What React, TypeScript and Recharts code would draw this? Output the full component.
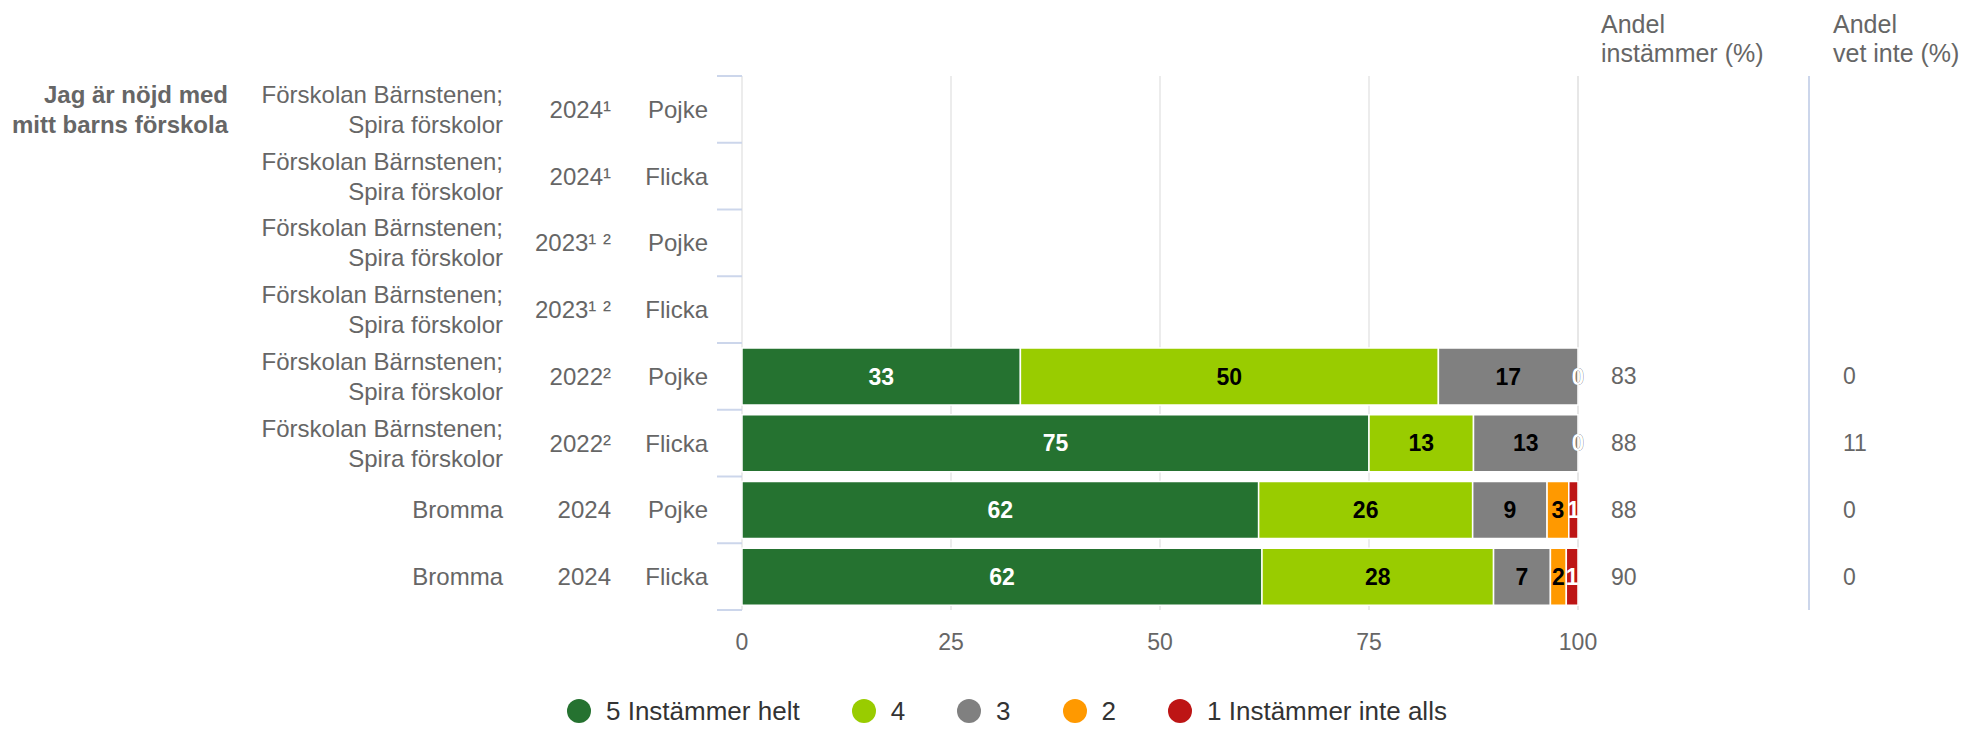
import React from "react";
import { BarChart, Bar, XAxis, YAxis, CartesianGrid, LabelList, Legend } from "recharts";

const FONT = '"Liberation Sans", Arial, sans-serif';

// kategorier (en rad per stapel)
const fraga = ["Jag är nöjd med", "mitt barns förskola"];
const skolor = [
  ["Förskolan Bärnstenen;", "Spira förskolor"],
  ["Förskolan Bärnstenen;", "Spira förskolor"],
  ["Förskolan Bärnstenen;", "Spira förskolor"],
  ["Förskolan Bärnstenen;", "Spira förskolor"],
  ["Förskolan Bärnstenen;", "Spira förskolor"],
  ["Förskolan Bärnstenen;", "Spira förskolor"],
  ["Bromma"],
  ["Bromma"],
];
const ar = ["2024¹", "2024¹", "2023¹ ²", "2023¹ ²", "2022²", "2022²", "2024", "2024"];
const kon = ["Pojke", "Flicka", "Pojke", "Flicka", "Pojke", "Flicka", "Pojke", "Flicka"];

// andelar per svarsalternativ (%)
const instammerHelt = [null, null, null, null, 33.3, 75, 61.8, 62.2];
const fyra = [null, null, null, null, 50, 12.5, 25.6, 27.7];
const tre = [null, null, null, null, 16.7, 12.5, 8.9, 6.8];
const tva = [null, null, null, null, 0, 0, 2.6, 1.9];
const instammerInte = [null, null, null, null, 0, 0, 1.1, 1.4];

// kolumner till höger
const andelInstammer = [null, null, null, null, 83, 88, 88, 90];
const andelVetInte = [null, null, null, null, 0, 11, 0, 0];

const xTicks = [0, 25, 50, 75, 100];

const serier = [
  { key: "s5", name: "5 Instämmer helt", color: "#257230", text: "#fff", values: instammerHelt },
  { key: "s4", name: "4", color: "#99cc00", text: "#000", values: fyra },
  { key: "s3", name: "3", color: "#808080", text: "#000", values: tre },
  { key: "s2", name: "2", color: "#ff9900", text: "#000", values: tva },
  { key: "s1", name: "1 Instämmer inte alls", color: "#bd1515", text: "#fff", values: instammerInte },
];

const data = kon.map((_, i) => {
  const rad: Record<string, any> = { cat: "r" + i };
  serier.forEach((s) => {
    rad[s.key] = s.values[i];
  });
  return rad;
});

const W = 1973;
const H = 729;
const PLOT_TOP = 76;
const PLOT_BOTTOM = 610;
const PLOT_LEFT = 742;
const PLOT_RIGHT = 1578;
const BAND = (PLOT_BOTTOM - PLOT_TOP) / kon.length;
const COL_INSTAMMER = 1611;
const COL_VETINTE = 1843;

function KategoriTick(props: any) {
  const { x, y, payload } = props;
  const i = Number(String(payload.value).slice(1));
  const grey = "#666";
  const skola = skolor[i];
  return (
    <g fontFamily={FONT}>
      <line x1={x - 25} x2={x} y1={y - BAND / 2} y2={y - BAND / 2} stroke="#ccd6eb" strokeWidth={2} />
      {i === kon.length - 1 && (
        <line x1={x - 25} x2={x} y1={y + BAND / 2} y2={y + BAND / 2} stroke="#ccd6eb" strokeWidth={2} />
      )}
      {i === 0 &&
        fraga.map((t, k) => (
          <text key={k} x={228} y={y - 15 + k * 30} dy="0.35em" textAnchor="end" fontSize={24} fontWeight="bold" fill={grey}>
            {t}
          </text>
        ))}
      {skola.map((t, k) => (
        <text
          key={k}
          x={x - 239}
          y={y + (k - (skola.length - 1) / 2) * 30}
          dy="0.35em"
          textAnchor="end"
          fontSize={24}
          fill={grey}
        >
          {t}
        </text>
      ))}
      <text x={x - 131} y={y} dy="0.35em" textAnchor="end" fontSize={24} fill={grey}>
        {ar[i]}
      </text>
      <text x={x - 34} y={y} dy="0.35em" textAnchor="end" fontSize={24} fill={grey}>
        {kon[i]}
      </text>
      {andelInstammer[i] != null && (
        <text x={COL_INSTAMMER} y={y} dy="0.35em" fontSize={23} fill={grey}>
          {andelInstammer[i]}
        </text>
      )}
      {andelVetInte[i] != null && (
        <text x={COL_VETINTE} y={y} dy="0.35em" fontSize={23} fill={grey}>
          {andelVetInte[i]}
        </text>
      )}
    </g>
  );
}

// etikett mitt i segmentet; nollvärden i följande serier ritas i stapelns slut
function SegmentEtikett(props: any) {
  const { x, y, width, height, value, serieIndex } = props;
  if (value == null || x == null || isNaN(x)) return null;
  const index = Number(String(value).slice(1));
  const s = serier[serieIndex];
  const v = s.values[index];
  if (v == null) return null;
  const nollor: { color: string }[] = [];
  for (let j = serieIndex + 1; j < serier.length; j++) {
    if (serier[j].values[index] === 0) nollor.push({ color: serier[j].text });
    else break;
  }
  const textProps = {
    textAnchor: "middle" as const,
    dy: "0.35em",
    fontFamily: FONT,
    fontSize: 23,
    fontWeight: "bold",
  };
  return (
    <g>
      {v > 0 && (
        <text x={x + width / 2} y={y + height / 2} fill={s.text} {...textProps}>
          {Math.round(v)}
        </text>
      )}
      {nollor.map((n, k) => (
        <text key={k} x={x + width} y={y + height / 2} fill={n.color} {...textProps}>
          0
        </text>
      ))}
    </g>
  );
}

function LegendInnehall({ payload }: any) {
  const items = serier.map((s) => (payload || []).find((p: any) => p.dataKey === s.key) || { value: s.name, color: s.color });
  return (
    <div style={{ display: "flex", alignItems: "center", paddingLeft: 567, fontFamily: FONT }}>
      {items.map((p: any, k: number) => (
        <div key={k} style={{ display: "flex", alignItems: "center", marginRight: 52 }}>
          <span
            style={{ width: 24, height: 24, borderRadius: "50%", background: p.color, marginRight: 15, display: "inline-block" }}
          />
          <span style={{ fontSize: 26, color: "#333", lineHeight: "30px" }}>{p.value}</span>
        </div>
      ))}
    </div>
  );
}

export default function App() {
  return (
    <div style={{ position: "absolute", left: 0, top: 0, width: W, height: H, fontFamily: FONT, background: "#fff" }}>
      <BarChart
        width={W}
        height={H}
        data={data}
        layout="vertical"
        margin={{ top: PLOT_TOP, right: W - PLOT_RIGHT, bottom: H - PLOT_BOTTOM - 60, left: 0 }}
      >
        <CartesianGrid horizontal={false} stroke="#e6e6e6" strokeWidth={1.5} />
        <XAxis
          type="number"
          domain={[0, 100]}
          ticks={xTicks}
          interval={0}
          axisLine={false}
          tickLine={false}
          tickSize={0}
          tickMargin={24}
          height={60}
          tick={{ fill: "#666", fontSize: 23, fontFamily: FONT }}
        />
        <YAxis
          type="category"
          dataKey="cat"
          width={PLOT_LEFT}
          interval={0}
          axisLine={false}
          tickLine={false}
          tickSize={0}
          tickMargin={0}
          tick={<KategoriTick />}
        />
        {serier.map((s, si) => (
          <Bar
            key={s.key}
            dataKey={s.key}
            name={s.name}
            stackId="a"
            fill={s.color}
            stroke="#fff"
            strokeWidth={1.5}
            barSize={57}
            isAnimationActive={false}
          >
            <LabelList
              dataKey={(d: any) => (d[s.key] == null ? null : d.cat)}
              content={(p: any) => <SegmentEtikett {...p} serieIndex={si} />}
            />
          </Bar>
        ))}
        <Legend
          layout="horizontal"
          verticalAlign="middle"
          align="center"
          wrapperStyle={{ top: 696, left: 0, width: W }}
          content={(p: any) => <LegendInnehall payload={p.payload} />}
        />
      </BarChart>
      <div
        style={{ position: "absolute", left: 1808, top: PLOT_TOP, width: 2, height: PLOT_BOTTOM - PLOT_TOP, background: "#ccd6eb" }}
      />
      <div style={{ position: "absolute", left: 1601, top: 10, fontSize: 25, lineHeight: "29px", color: "#666" }}>
        Andel
        <br />
        instämmer (%)
      </div>
      <div style={{ position: "absolute", left: 1833, top: 10, fontSize: 25, lineHeight: "29px", color: "#666" }}>
        Andel
        <br />
        vet inte (%)
      </div>
    </div>
  );
}
